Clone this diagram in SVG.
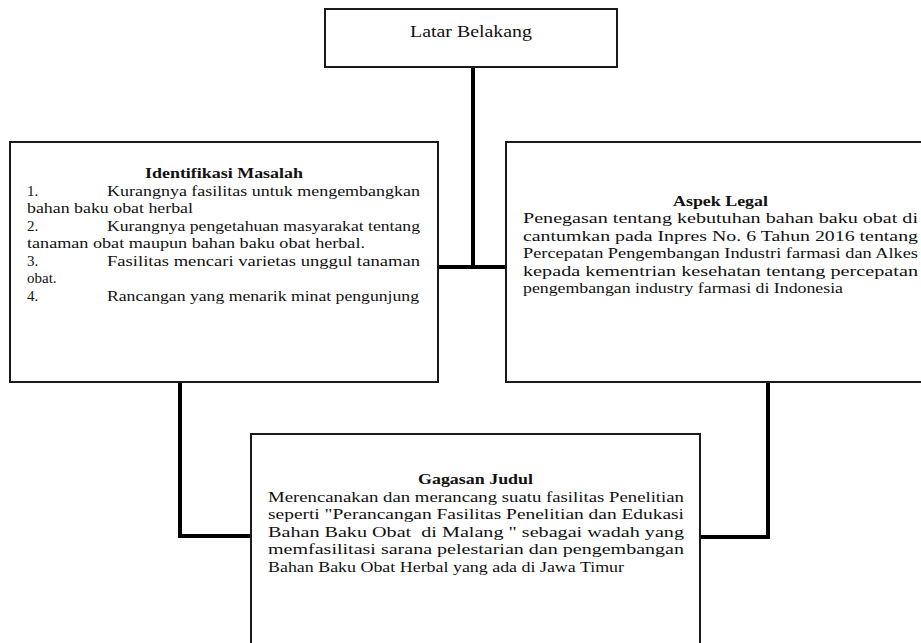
<svg xmlns="http://www.w3.org/2000/svg" width="921" height="643" viewBox="0 0 921 643">
<style>
  .box { fill: #ffffff; stroke: #1a1a1a; stroke-width: 2; }
  .conn { fill: none; stroke: #000000; stroke-width: 4; stroke-linejoin: miter; }
  text { font-family: "Liberation Serif", "Times New Roman", serif; font-size: 14px; fill: #111111; }
  .title { font-weight: bold; }
  .big { font-size: 17px; }
  .num { font-size: 15px; }
</style>
<rect x="0" y="0" width="921" height="643" fill="#ffffff"/>
<g id="connectors">
  <path class="conn" d="M473,67 V267"/>
  <path class="conn" d="M438,267 H506"/>
  <path class="conn" d="M180,382 V536 H251"/>
  <path class="conn" d="M768,382 V537 H700"/>
</g>
<g id="latar-belakang">
  <rect class="box" x="325" y="9" width="292" height="58"/>
  <text class="big" x="410" y="37" textLength="122" lengthAdjust="spacingAndGlyphs">Latar Belakang</text>
</g>
<g id="identifikasi-masalah">
  <rect class="box" x="10" y="142" width="428" height="240"/>
  <text class="title" x="145" y="178" textLength="158" lengthAdjust="spacingAndGlyphs">Identifikasi Masalah</text>
  <text class="num" x="27" y="195.5">1.</text>
  <text x="107" y="195.5" textLength="313" lengthAdjust="spacingAndGlyphs">Kurangnya fasilitas untuk mengembangkan</text>
  <text x="27" y="213" textLength="166" lengthAdjust="spacingAndGlyphs">bahan baku obat herbal</text>
  <text class="num" x="27" y="230.5">2.</text>
  <text x="107" y="230.5" textLength="313" lengthAdjust="spacingAndGlyphs">Kurangnya pengetahuan masyarakat tentang</text>
  <text x="27" y="248" textLength="338" lengthAdjust="spacingAndGlyphs">tanaman obat maupun bahan baku obat herbal.</text>
  <text class="num" x="27" y="265.5">3.</text>
  <text x="107" y="265.5" textLength="313" lengthAdjust="spacingAndGlyphs">Fasilitas mencari varietas unggul tanaman</text>
  <text class="num" x="27" y="283">obat.</text>
  <text class="num" x="27" y="300.5">4.</text>
  <text x="107" y="300.5" textLength="312" lengthAdjust="spacingAndGlyphs">Rancangan yang menarik minat pengunjung</text>
</g>
<g id="aspek-legal">
  <rect class="box" x="506" y="142" width="430" height="240"/>
  <text class="title" x="673" y="205.5" textLength="95" lengthAdjust="spacingAndGlyphs">Aspek Legal</text>
  <text x="523" y="223" textLength="395" lengthAdjust="spacingAndGlyphs">Penegasan tentang kebutuhan bahan baku obat di</text>
  <text x="523" y="240.5" textLength="395" lengthAdjust="spacingAndGlyphs">cantumkan pada Inpres No. 6 Tahun 2016 tentang</text>
  <text x="523" y="258" textLength="395" lengthAdjust="spacingAndGlyphs">Percepatan Pengembangan Industri farmasi dan Alkes</text>
  <text x="523" y="275.5" textLength="395" lengthAdjust="spacingAndGlyphs">kepada kementrian kesehatan tentang percepatan</text>
  <text x="523" y="293" textLength="320" lengthAdjust="spacingAndGlyphs">pengembangan industry farmasi di Indonesia</text>
</g>
<g id="gagasan-judul">
  <rect class="box" x="251" y="434" width="449" height="230"/>
  <text class="title" x="418" y="484" textLength="115" lengthAdjust="spacingAndGlyphs">Gagasan Judul</text>
  <text x="268" y="501.5" textLength="416" lengthAdjust="spacingAndGlyphs">Merencanakan dan merancang suatu fasilitas Penelitian</text>
  <text x="268" y="519" textLength="416" lengthAdjust="spacingAndGlyphs">seperti "Perancangan Fasilitas Penelitian dan Edukasi</text>
  <text x="268" y="536.5" textLength="416" lengthAdjust="spacingAndGlyphs" xml:space="preserve">Bahan Baku Obat  di Malang " sebagai wadah yang</text>
  <text x="268" y="554" textLength="416" lengthAdjust="spacingAndGlyphs">memfasilitasi sarana pelestarian dan pengembangan</text>
  <text x="268" y="571.5" textLength="356" lengthAdjust="spacingAndGlyphs">Bahan Baku Obat Herbal yang ada di Jawa Timur</text>
</g>
</svg>
